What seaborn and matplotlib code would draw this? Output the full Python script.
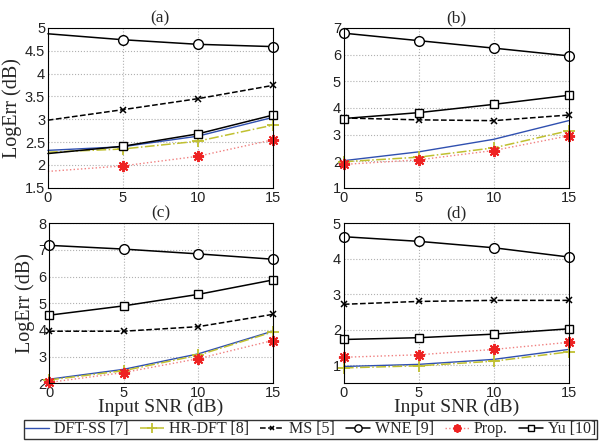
import numpy as np
import pandas as pd
import seaborn as sns
import matplotlib.pyplot as plt

snr = [0, 5, 10, 15]

# panel (a)
a_dftss = [2.32, 2.40, 2.63, 3.04]
a_hrdft = [2.28, 2.35, 2.52, 2.87]
a_ms = [2.98, 3.21, 3.45, 3.74]
a_wne = [4.87, 4.74, 4.64, 4.59]
a_prop = [1.86, 1.98, 2.19, 2.55]
a_yu = [2.25, 2.41, 2.68, 3.09]

# panel (b)
b_dftss = [2.02, 2.35, 2.82, 3.52]
b_hrdft = [1.98, 2.15, 2.50, 3.14]
b_ms = [3.62, 3.55, 3.52, 3.73]
b_wne = [6.80, 6.52, 6.24, 5.95]
b_prop = [1.88, 2.05, 2.40, 2.95]
b_yu = [3.60, 3.82, 4.13, 4.47]

# panel (c)
c_dftss = [2.15, 2.52, 3.10, 3.95]
c_hrdft = [2.12, 2.47, 3.05, 3.92]
c_ms = [3.95, 3.95, 4.12, 4.58]
c_wne = [7.17, 7.03, 6.85, 6.65]
c_prop = [2.03, 2.40, 2.92, 3.60]
c_yu = [4.55, 4.90, 5.33, 5.87]

# panel (d)
d_dftss = [0.97, 1.03, 1.17, 1.45]
d_hrdft = [0.93, 0.99, 1.12, 1.38]
d_ms = [2.72, 2.80, 2.83, 2.83]
d_wne = [4.62, 4.49, 4.31, 4.05]
d_prop = [1.23, 1.30, 1.45, 1.65]
d_yu = [1.73, 1.78, 1.88, 2.03]

methods = ['DFT-SS [7]', 'HR-DFT [8]', 'MS [5]', 'WNE [9]', 'Prop.', 'Yu [10]']

panels = {
    '(a)': [a_dftss, a_hrdft, a_ms, a_wne, a_prop, a_yu],
    '(b)': [b_dftss, b_hrdft, b_ms, b_wne, b_prop, b_yu],
    '(c)': [c_dftss, c_hrdft, c_ms, c_wne, c_prop, c_yu],
    '(d)': [d_dftss, d_hrdft, d_ms, d_wne, d_prop, d_yu],
}

styles = {
    'DFT-SS [7]': dict(color='#3050b0', ls='-', marker=None, lw=1.0),
    'HR-DFT [8]': dict(color='#c0c030', ls='-.', marker='+', lw=1.1, ms=9, mew=1.3, mec='#c0c030'),
    'MS [5]': dict(color='black', ls='--', marker='x', lw=1.1, ms=4.5, mew=1.1, mec='black'),
    'WNE [9]': dict(color='black', ls='-', marker='o', lw=1.1, ms=7, mfc='white', mew=1.0, mec='black'),
    'Prop.': dict(color='#f08080', ls=':', marker=(8, 2, 0), lw=1.0, ms=8, mew=1.4, mec='#ee2222'),
    'Yu [10]': dict(color='black', ls='-', marker='s', lw=1.1, ms=5.5, mfc='white', mew=1.0, mec='black'),
}

limits = {
    '(a)': (1.5, 5, np.arange(1.5, 5.01, 0.5), ['1.5', '2', '2.5', '3', '3.5', '4', '4.5', '5']),
    '(b)': (1, 7, np.arange(1, 8), [str(v) for v in range(1, 8)]),
    '(c)': (2, 8, np.arange(2, 9), [str(v) for v in range(2, 9)]),
    '(d)': (0.5, 5, np.arange(1, 6), [str(v) for v in range(1, 6)]),
}

positions = {
    '(a)': [0.078, 0.575, 0.366, 0.362],
    '(b)': [0.560, 0.575, 0.366, 0.362],
    '(c)': [0.080, 0.133, 0.364, 0.362],
    '(d)': [0.560, 0.133, 0.366, 0.362],
}

sns.set_style('white')
plt.rcParams['font.family'] = ['Liberation Serif', 'DejaVu Serif']

fig = plt.figure(figsize=(6.14, 4.42), dpi=100)

for name, series in panels.items():
    ax = fig.add_axes(positions[name])
    for m, vals in zip(methods, series):
        st = styles[m].copy()
        df = pd.DataFrame({'snr': snr, 'val': vals})
        # panel (a) shows no markers at SNR 0
        every = [1, 2, 3] if name == '(a)' else None
        sns.lineplot(data=df, x='snr', y='val', ax=ax, label=m, color=st.pop('color'),
                     linestyle=st.pop('ls'), marker=st.pop('marker'), linewidth=st.pop('lw'),
                     markersize=st.pop('ms', 6), markevery=every, clip_on=False,
                     zorder=3, **st)
    lo, hi, ticks, labels = limits[name]
    ax.set_xlim(0, 15)
    ax.set_ylim(lo, hi)
    ax.set_xticks(snr)
    ax.set_yticks(ticks)
    ax.set_yticklabels(labels)
    ax.set_xticklabels([str(v) for v in snr])
    for lab in ax.get_xticklabels() + ax.get_yticklabels():
        lab.set_family('Liberation Sans')
        lab.set_fontsize(10.5)
    ax.tick_params(direction='in', length=3, pad=2, colors='#222222')
    ax.grid(True, ls=':', color='#b0b0b0', lw=0.8)
    for sp in ax.spines.values():
        sp.set_color('black')
        sp.set_linewidth(0.8)
        sp.set_zorder(4)
    ax.set_title(name, fontsize=12.5, pad=4)
    if name in ('(a)', '(c)'):
        ax.set_ylabel('LogErr (dB)', fontsize=14.5, labelpad=2)
    else:
        ax.set_ylabel('')
    if name in ('(c)', '(d)'):
        ax.set_xlabel('Input SNR (dB)', fontsize=14, labelpad=-1)
    else:
        ax.set_xlabel('')
    handles, labs = ax.get_legend_handles_labels()
    ax.get_legend().remove()

leg = fig.legend(handles, labs, loc='lower center', bbox_to_anchor=(0.506, 0.002), ncol=6,
                 fontsize=11.5, frameon=True, fancybox=False, edgecolor='black',
                 handlelength=1.5, handletextpad=0.3, columnspacing=0.7,
                 borderpad=0.1, borderaxespad=0.15, markerscale=0.75)
leg.get_frame().set_linewidth(1.0)

fig.savefig('out.png', dpi=100)
